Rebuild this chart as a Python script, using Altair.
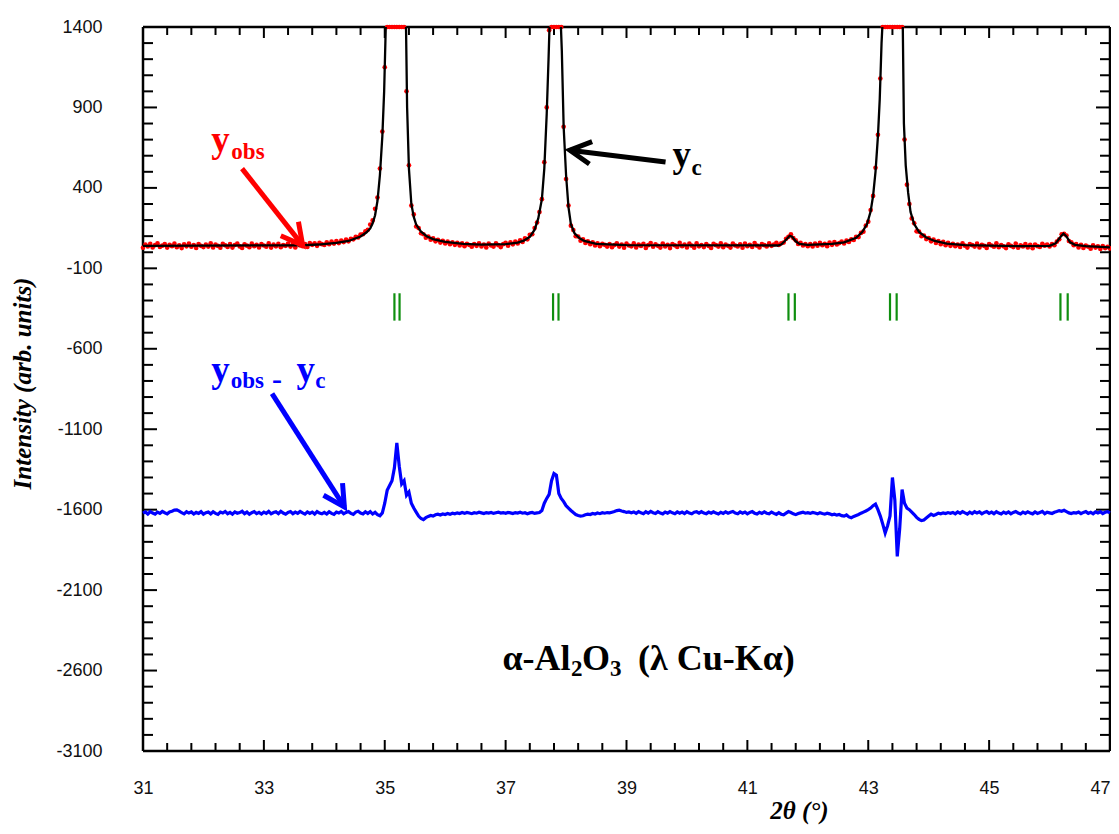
import math
import altair as alt
import pandas as pd

# ---------------- axis labels / ticks ----------------
X_LABELS = [31, 33, 35, 37, 39, 41, 43, 45, 47]
Y_LABELS = [1400, 900, 400, -100, -600, -1100, -1600, -2100, -2600, -3100]
X_MINOR = [round(31 + 0.4 * k, 1) for k in range(41) if k % 5 != 0]
Y_MINOR = [-3100 + 100 * k for k in range(46) if k % 5 != 0]

# ---------------- observed intensities (2theta step 0.04) ----------------
STEP = 0.04
OBS_A_START, OBS_A = 31.00, [28, 47, 36, 52, 30, 44, 55, 33, 41, 50,
                             29, 46, 38, 53, 31, 43, 26, 49, 37, 54,
                             34, 45, 27, 51, 40, 32, 48, 35, 56, 30,
                             47, 39, 28, 52, 43, 33, 50, 29, 45, 54,
                             36, 27, 49, 41, 31, 53, 38, 46, 30, 51,
                             42, 34, 55, 29, 47, 37, 52, 31, 44, 40,
                             53, 35, 48, 30, 56, 42, 38, 51, 33, 57,
                             46, 55, 40, 58, 50]
OBS_B_START, OBS_B = 34.00, [45, 62, 50, 66, 54, 70, 57, 72, 63, 78, 68, 84, 80, 96, 92,
                             110, 112, 130, 140, 172, 198, 270, 340, 520, 750]
OBS_C_START, OBS_C = 35.00, [1150, 2400, 5200, 9800, 14500, 11800, 8600, 5400, 2600]
OBS_D_START, OBS_D = 35.36, [1000, 540, 290, 235, 160, 150, 118, 112, 90, 98,
                             78, 86, 68, 77, 60, 71, 55, 66, 50, 61,
                             46, 58, 42, 55, 38, 52, 45, 34, 50, 40,
                             56, 36, 48, 30, 53, 42, 35, 55, 44, 32,
                             50, 58, 41, 62, 49, 66, 55, 74, 64, 86,
                             80, 108, 112, 150, 185]
OBS_E_START, OBS_E = 37.56, [250, 330, 560, 900, 1380, 3800, 7600, 8200, 4100, 1420,
                             780, 455, 290, 165, 138, 100, 98, 72, 80, 58,
                             68, 50, 62, 42, 56, 38, 52, 46, 35]
OBS_F_START, OBS_F = 38.72, [50, 31, 45, 56, 35, 48, 28, 53, 42, 37,
                             55, 30, 47, 39, 52, 27, 44, 57, 34, 49,
                             40, 29, 54, 36, 46, 26, 51, 43, 33, 58,
                             38, 48, 30, 53, 41, 28, 55, 37, 45, 32,
                             50, 39, 27, 52, 44, 35, 56, 31, 47, 40,
                             29, 54, 42, 36, 49, 28, 53, 38, 46, 33,
                             57, 41, 30, 51, 44, 36, 55, 40, 48, 58, 45]
OBS_G_START, OBS_G = 41.56, [56, 60, 84, 96, 112, 88, 74, 52, 58, 42, 50, 38]
OBS_H_START, OBS_H = 42.04, [50, 36, 54, 41, 58, 44, 52, 38, 60, 46,
                             63, 48, 57, 66, 55, 72, 64, 80, 76, 96,
                             94, 120, 128, 165, 190, 262, 350, 525, 730]
OBS_I_START, OBS_I = 43.20, [1080, 2300, 6200, 11500, 15800, 13200, 9400, 7400, 5100, 2500,
                             700, 420, 300, 210, 180, 130, 128, 100, 104, 82,
                             88, 68, 78, 58, 70, 50, 64, 44, 58, 40]
OBS_J_START, OBS_J = 44.40, [52, 38, 47, 33, 55, 41, 29, 50, 44, 35,
                             53, 30, 46, 39, 27, 51, 42, 34, 56, 31,
                             45, 37, 26, 49, 40, 32, 54, 28, 43, 36,
                             50, 30, 46, 25, 48, 38, 33, 52, 41, 47]
OBS_K_START, OBS_K = 46.00, [36, 50, 44, 66, 80, 112, 114, 104, 70, 62, 44, 50]
OBS_L_START, OBS_L = 46.48, [30, 46, 27, 41, 34, 22, 43, 29, 37, 20, 38, 26, 33, 24]

# ---------------- calculated profile ----------------
YC_X = [31.0, 33.6, 33.9, 34.2, 34.4, 34.6, 34.7, 34.76, 34.8, 34.84,
        34.88, 34.92, 34.96, 34.99, 35.02, 35.1, 35.2, 35.3, 35.35, 35.37,
        35.40, 35.44, 35.48, 35.52, 35.6, 35.7, 35.8, 36.0, 36.3, 36.6,
        37.0, 37.2, 37.3, 37.4, 37.48, 37.54, 37.6, 37.64, 37.68, 37.71,
        37.73, 37.8, 37.91, 37.93, 37.96, 38.0, 38.04, 38.08, 38.14, 38.22,
        38.3, 38.5, 39.0, 41.5, 41.56, 41.62, 41.7, 41.74, 41.8, 41.86,
        42.0, 42.4, 42.6, 42.8, 42.9, 42.98, 43.04, 43.08, 43.12, 43.16,
        43.19, 43.22, 43.24, 43.4, 43.57, 43.59, 43.62, 43.66, 43.70, 43.76,
        43.84, 43.96, 44.1, 44.3, 44.6, 45.5, 46.0, 46.1, 46.18, 46.23,
        46.28, 46.34, 46.42, 46.6, 47.0]
YC_Y = [40, 43, 48, 58, 70, 98, 124, 148, 180, 230,
        320, 480, 720, 1000, 1450, 8000, 12000, 4000, 1450, 900,
        520, 300, 220, 172, 128, 98, 82, 64, 52, 47,
        50, 60, 72, 96, 140, 210, 330, 520, 860, 1200,
        1450, 8000, 1450, 1250, 780, 480, 280, 175, 118, 88,
        70, 52, 44, 42, 48, 70, 102, 96, 68, 52,
        46, 52, 62, 90, 125, 175, 255, 350, 500, 720,
        950, 1300, 1450, 14000, 1450, 800, 540, 370, 250, 175,
        126, 92, 70, 54, 44, 38, 40, 55, 95, 116,
        98, 62, 46, 38, 30]

# ---------------- difference curve (yobs - yc, shifted) ----------------
RES_A_START, RES_A = 31.00, [-1622, -1614, -1627, -1612, -1621, -1628, -1615, -1623, -1611, -1619,
                             -1626, -1614, -1610, -1603, -1601, -1609, -1619, -1626, -1613, -1621,
                             -1614, -1627, -1617, -1623, -1612, -1628, -1619, -1615, -1626, -1613,
                             -1623, -1629, -1615, -1621, -1611, -1625, -1617, -1628, -1614, -1622,
                             -1618, -1610, -1625, -1615, -1629, -1619, -1612, -1625, -1617, -1627,
                             -1615, -1623, -1611, -1626, -1618, -1613, -1625, -1610, -1621, -1628,
                             -1617, -1612, -1625, -1615, -1623, -1611, -1620, -1628, -1614, -1623,
                             -1615, -1627, -1612, -1621, -1626]
RES_B_START, RES_B = 34.00, [-1617, -1627, -1613, -1623, -1629, -1615, -1621, -1611, -1625, -1617,
                             -1612, -1623, -1629, -1615, -1610, -1621, -1627, -1613, -1624, -1612,
                             -1627, -1617, -1631, -1638, -1620]
RES_C_START, RES_C = 35.00, [-1560, -1480, -1450, -1420, -1340, -1185, -1330, -1440, -1420]
RES_D_START, RES_D = 35.36, [-1510, -1490, -1560, -1590, -1615, -1640, -1655, -1662, -1650, -1642,
                             -1636, -1640, -1632, -1628, -1633, -1627, -1630, -1624, -1629, -1622,
                             -1626, -1620, -1624, -1618, -1623, -1617, -1621, -1625, -1619, -1622,
                             -1616, -1620, -1624, -1618, -1621, -1617, -1623, -1619, -1615, -1621,
                             -1618, -1622, -1617, -1620, -1624, -1618, -1621, -1616, -1622, -1619,
                             -1625, -1620, -1617, -1623, -1620]
RES_E_START, RES_E = 37.56, [-1618, -1605, -1560, -1530, -1505, -1420, -1375, -1385, -1500, -1530,
                             -1550, -1575, -1590, -1605, -1618, -1630, -1636, -1640, -1638, -1632,
                             -1628, -1630, -1624, -1627, -1621, -1625, -1619, -1622, -1618]
RES_F_START, RES_F = 38.72, [-1620, -1616, -1612, -1606, -1603, -1608, -1612, -1617, -1614, -1619,
                             -1614, -1623, -1612, -1620, -1625, -1613, -1621, -1611, -1619, -1624,
                             -1613, -1621, -1626, -1615, -1622, -1612, -1620, -1625, -1614, -1622,
                             -1615, -1624, -1613, -1621, -1626, -1616, -1613, -1622, -1612, -1621,
                             -1625, -1615, -1622, -1613, -1621, -1627, -1616, -1623, -1614, -1622,
                             -1616, -1611, -1621, -1625, -1614, -1622, -1615, -1626, -1617, -1612,
                             -1622, -1627, -1616, -1623, -1614, -1622, -1626, -1615, -1623, -1629,
                             -1619]
RES_G_START, RES_G = 41.56, [-1628, -1632, -1622, -1612, -1618, -1626, -1631, -1624, -1620, -1616,
                             -1622, -1619]
RES_H_START, RES_H = 42.04, [-1623, -1617, -1621, -1626, -1619, -1624, -1628, -1622, -1626, -1632,
                             -1628, -1634, -1630, -1637, -1640, -1633, -1645, -1650, -1642, -1636,
                             -1630, -1622, -1615, -1608, -1600, -1590, -1575, -1565, -1600]
RES_I_START, RES_I = 43.20, [-1640, -1690, -1745, -1700, -1640, -1400, -1540, -1890, -1720, -1475,
                             -1560, -1590, -1600, -1615, -1630, -1648, -1660, -1668, -1664, -1652,
                             -1640, -1628, -1636, -1630, -1622, -1626, -1620, -1624, -1618, -1622]
RES_J_START, RES_J = 44.40, [-1617, -1626, -1614, -1623, -1612, -1620, -1627, -1615, -1624, -1613,
                             -1621, -1614, -1626, -1617, -1612, -1623, -1615, -1625, -1613, -1621,
                             -1627, -1615, -1623, -1614, -1626, -1617, -1611, -1621, -1627, -1615,
                             -1623, -1613, -1621, -1626, -1614, -1623, -1617, -1611, -1625, -1616]
RES_K_START, RES_K = 46.00, [-1620, -1624, -1616, -1612, -1606, -1610, -1604, -1612, -1620, -1624,
                             -1618, -1621]
RES_L_START, RES_L = 46.48, [-1615, -1625, -1617, -1612, -1623, -1616, -1626, -1614, -1621, -1613,
                             -1624, -1616, -1612, -1620]

# ---------------- Bragg reflection markers (K-alpha1 / K-alpha2) ----------------
REFL_POS = [35.16, 35.245, 37.785, 37.875, 41.68, 41.785, 43.36, 43.47, 46.18, 46.30]
REFL_TOP, REFL_BOTTOM = -255, -425

# ---------------- annotations ----------------
ANN_TEXT = ["y", "obs", "y", "c", "y", "obs", "-", "y", "c",
            "α-Al", "2", "O", "3", "(λ Cu-Kα)"]
ANN_X = [32.131, 32.462, 39.762, 40.076, 32.131, 32.453, 33.134, 33.538, 33.852,
         36.948, 38.082, 38.264, 38.727, 39.190]
ANN_Y = [621, 578, 528, 478, -808, -846, -850, -808, -846,
         -2598, -2636, -2598, -2636, -2598]
ANN_SIZE = [37, 23, 37, 23, 37, 23, 30, 37, 23, 36, 23, 36, 23, 36]
ANN_COLOR = ["#ff0000", "#ff0000", "#000000", "#000000",
             "#0000ff", "#0000ff", "#0000ff", "#0000ff", "#0000ff",
             "#000000", "#000000", "#000000", "#000000", "#000000"]

ARROW_X = [32.639, 39.646, 33.135]
ARROW_Y = [520, 561, -879]
ARROW_X2 = [33.642, 38.062, 34.332]
ARROW_Y2 = [43, 634, -1583]
ARROW_COLOR = ["#ff0000", "#000000", "#0000ff"]

# ---------------- build tables ----------------
def segs(pairs, name):
    rows = []
    for start, vals in pairs:
        for k, v in enumerate(vals):
            rows.append({"tt": round(start + STEP * k, 2), name: v})
    return pd.DataFrame(rows)

obs_df = segs([(OBS_A_START, OBS_A), (OBS_B_START, OBS_B), (OBS_C_START, OBS_C),
               (OBS_D_START, OBS_D), (OBS_E_START, OBS_E), (OBS_F_START, OBS_F),
               (OBS_G_START, OBS_G), (OBS_H_START, OBS_H), (OBS_I_START, OBS_I),
               (OBS_J_START, OBS_J), (OBS_K_START, OBS_K), (OBS_L_START, OBS_L)], "yobs")
res_df = segs([(RES_A_START, RES_A), (RES_B_START, RES_B), (RES_C_START, RES_C),
               (RES_D_START, RES_D), (RES_E_START, RES_E), (RES_F_START, RES_F),
               (RES_G_START, RES_G), (RES_H_START, RES_H), (RES_I_START, RES_I),
               (RES_J_START, RES_J), (RES_K_START, RES_K), (RES_L_START, RES_L)], "res")
yc_df = pd.DataFrame({"tt": YC_X, "yc": YC_Y})
refl_df = pd.DataFrame({"tt": REFL_POS, "a": [REFL_TOP] * len(REFL_POS),
                        "b": [REFL_BOTTOM] * len(REFL_POS)})
ann_df = pd.DataFrame({"text": ANN_TEXT, "tt": ANN_X, "v": ANN_Y,
                       "fs": ANN_SIZE, "col": ANN_COLOR})

W, H = 967, 724
XMIN, XMAX, YMIN, YMAX = 31, 47, -3100, 1400

def px(x):
    return (x - XMIN) / (XMAX - XMIN) * W

def py(y):
    return (YMAX - y) / (YMAX - YMIN) * H

angles = []
for x1, y1, x2, y2 in zip(ARROW_X, ARROW_Y, ARROW_X2, ARROW_Y2):
    dx, dy = px(x2) - px(x1), py(y2) - py(y1)
    angles.append(math.degrees(math.atan2(dx, -dy)) % 360)
arrow_df = pd.DataFrame({"x1": ARROW_X, "y1": ARROW_Y, "x2": ARROW_X2, "y2": ARROW_Y2,
                         "col": ARROW_COLOR, "ang": angles})

# ---------------- scales & axes ----------------
XS = alt.Scale(domain=[XMIN, XMAX], nice=False, zero=False)
YS = alt.Scale(domain=[YMIN, YMAX], nice=False, zero=False)
XAX = alt.Axis(values=X_LABELS, ticks=False, tickSize=0, domain=False, grid=False,
               labelExpr="'' + datum.value",
               labelAlign={"expr": "datum.value == 47 ? 'right' : 'center'"},
               labelFont="Liberation Sans", labelFontSize=18, labelColor="#111111",
               labelPadding=28, labelFlush=False, labelOverlap=False,
               title="2θ (°)", titleFont="Liberation Serif", titleFontSize=25,
               titleFontWeight="bold", titleFontStyle="italic", titleColor="#000000",
               titleX=656, titleY=67, titleAlign="center", titleBaseline="alphabetic")
YAX = alt.Axis(values=Y_LABELS, ticks=False, tickSize=0, domain=False, grid=False,
               labelExpr="'' + datum.value",
               labelFont="Liberation Sans", labelFontSize=18, labelColor="#111111",
               labelPadding=41, labelFlush=False, labelOverlap=False,
               title="Intensity (arb. units)", titleFont="Liberation Serif", titleFontSize=25,
               titleFontWeight="bold", titleFontStyle="italic", titleColor="#000000",
               titleX=-121, titleY=356, titleAlign="center", titleBaseline="middle",
               titleAngle=270)

def X(f):
    return alt.X(f, type="quantitative", scale=XS, axis=XAX)

def Y(f):
    return alt.Y(f, type="quantitative", scale=YS, axis=YAX)

one = pd.DataFrame({"d": [0]})
layers = []

# frame
FR = dict(color="black", strokeWidth=2.5)
layers.append(alt.Chart(one).mark_rule(**FR).encode(x=alt.value(0), x2=alt.value(W), y=alt.value(0)))
layers.append(alt.Chart(one).mark_rule(**FR).encode(x=alt.value(0), x2=alt.value(W), y=alt.value(H)))
layers.append(alt.Chart(one).mark_rule(**FR).encode(x=alt.value(0), y=alt.value(0), y2=alt.value(H)))
layers.append(alt.Chart(one).mark_rule(**FR).encode(x=alt.value(W), y=alt.value(0), y2=alt.value(H)))

# inward ticks
TK = dict(color="black", strokeWidth=2)
for vals, ln in [(X_LABELS, 11), (X_MINOR, 8)]:
    d = pd.DataFrame({"t": vals})
    layers.append(alt.Chart(d).mark_rule(**TK).encode(x=X("t"), y=alt.value(H), y2=alt.value(H - ln)))
    layers.append(alt.Chart(d).mark_rule(**TK).encode(x=X("t"), y=alt.value(0), y2=alt.value(ln)))
for vals, ln in [(Y_LABELS, 14), (Y_MINOR, 10)]:
    d = pd.DataFrame({"t": vals})
    layers.append(alt.Chart(d).mark_rule(**TK).encode(y=Y("t"), x=alt.value(0), x2=alt.value(ln)))
    layers.append(alt.Chart(d).mark_rule(**TK).encode(y=Y("t"), x=alt.value(W - ln), x2=alt.value(W)))

# reflection markers
layers.append(alt.Chart(refl_df).mark_rule(color="#0f8f0f", strokeWidth=2.2).encode(
    x=X("tt"), y=Y("a"), y2=alt.Y2("b")))

# observed points (clamped at top of frame)
layers.append(alt.Chart(obs_df).transform_calculate(yp="min(datum.yobs, 1400)")
              .mark_circle(size=22, color="#ff0000", opacity=1).encode(x=X("tt"), y=Y("yp")))

# calculated line
layers.append(alt.Chart(yc_df).mark_line(color="black", strokeWidth=2.3, clip=True).encode(
    x=X("tt"), y=Y("yc")))

# difference line
layers.append(alt.Chart(res_df).mark_line(color="#0000ff", strokeWidth=3.2).encode(
    x=X("tt"), y=Y("res")))

# arrows
layers.append(alt.Chart(arrow_df).mark_rule(strokeWidth=5).encode(
    x=X("x1"), y=Y("y1"), x2=alt.X2("x2"), y2=alt.Y2("y2"),
    color=alt.Color("col:N", scale=None)))
layers.append(alt.Chart(arrow_df).mark_point(
    shape="M -0.47 0.88 L 0 0 L 0.47 0.88", filled=False, strokeWidth=5, size=2300, opacity=1,
    strokeJoin="miter").encode(
    x=X("x2"), y=Y("y2"), angle=alt.Angle("ang:Q", scale=None),
    stroke=alt.Stroke("col:N", scale=None)))

# annotation texts
layers.append(alt.Chart(ann_df).mark_text(
    font="Liberation Serif", fontWeight="bold", align="left", baseline="alphabetic").encode(
    x=X("tt"), y=Y("v"), text="text:N",
    size=alt.Size("fs:Q", scale=None), color=alt.Color("col:N", scale=None)))

chart = alt.layer(*layers).properties(
    width=W, height=H,
    padding={"left": 135, "top": 19, "right": 1, "bottom": 74},
    autosize=alt.AutoSizeParams(type="none"),
    background="white",
).configure_view(stroke=None)

chart.save("out.html", embed_options={"renderer": "svg", "actions": False})
